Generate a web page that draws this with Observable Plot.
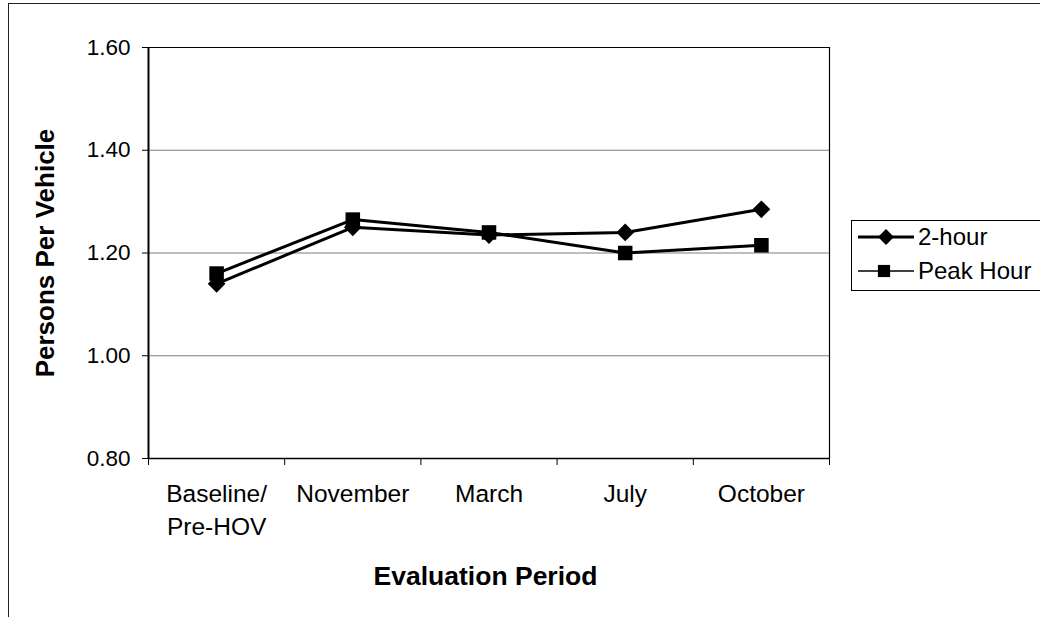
<!DOCTYPE html>
<html>
<head>
<meta charset="utf-8">
<script src="https://cdn.jsdelivr.net/npm/d3@7"></script>
<script src="https://cdn.jsdelivr.net/npm/@observablehq/plot@0.6"></script>
<style>
  html, body { margin: 0; padding: 0; background: #fff; }
  #wrap { position: relative; width: 1040px; height: 617px; overflow: hidden; font-family: "Liberation Sans", Arial, sans-serif; }
  #border { position: absolute; left: 8px; top: 3px; width: 1100px; height: 700px; border: 1px solid #222; box-sizing: border-box; }
  #chart { position: absolute; left: 0; top: 0; }
  #legend { position: absolute; left: 851px; top: 220px; width: 220px; height: 71px; border: 1px solid #000; box-sizing: border-box; background: #fff; }
</style>
</head>
<body>
<div id="wrap">
  <div id="border"></div>
  <div id="chart"></div>
  <div id="legend"></div>
</div>
<script>
const categories = ["Baseline/\nPre-HOV", "November", "March", "July", "October"];
const twoHour = [1.14, 1.25, 1.235, 1.24, 1.285];
const peakHour = [1.16, 1.265, 1.24, 1.20, 1.215];
const yTicks = [0.8, 1.0, 1.2, 1.4, 1.6];
const seriesNames = ["2-hour", "Peak Hour"];

const rows = [];
categories.forEach((c, i) => {
  rows.push({series: seriesNames[0], i, value: twoHour[i]});
  rows.push({series: seriesNames[1], i, value: peakHour[i]});
});
const bounds = d3.range(categories.length + 1).map(i => i - 0.5);
const font = "Liberation Sans, Arial, sans-serif";
const rDiamond = 8, rSquare = 8.2;

const plot = Plot.plot({
  width: 1040,
  height: 617,
  marginLeft: 148,
  marginRight: 211,
  marginTop: 47,
  marginBottom: 159,
  style: {fontFamily: font, fontSize: "24px", background: "transparent", overflow: "visible"},
  x: {type: "linear", domain: [-0.5, categories.length - 0.5]},
  y: {domain: [0.8, 1.6]},
  marks: [
    Plot.ruleY(yTicks.slice(1, -1), {stroke: "#7f7f7f", strokeWidth: 1}),
    Plot.ruleY([1.6], {stroke: "#000", strokeWidth: 1.2}),
    Plot.ruleX([categories.length - 0.5], {stroke: "#000", strokeWidth: 1.2}),
    Plot.axisY({ticks: yTicks, tickFormat: d3.format(".2f"), tickSize: 6, tickPadding: 12, label: null, fontSize: 22.5, stroke: "#000"}),
    Plot.axisX({ticks: bounds, tickFormat: () => "", tickSize: 7, label: null, stroke: "#000"}),
    Plot.ruleY([0.8], {stroke: "#000", strokeWidth: 1.5}),
    Plot.ruleX([-0.5], {stroke: "#000", strokeWidth: 2}),
    Plot.text(categories.map((c, i) => ({c, i})), {
      x: "i", text: "c", frameAnchor: "bottom", dy: 21, lineAnchor: "top", lineHeight: 1.32,
      fontSize: 24.5, fill: "#000"
    }),
    Plot.text(["Persons Per Vehicle"], {frameAnchor: "left", textAnchor: "middle", dx: -103, rotate: -90, fontWeight: "bold", fontSize: 26, fill: "#000"}),
    Plot.text(["Evaluation Period"], {frameAnchor: "bottom", textAnchor: "middle", dx: -3.5, dy: 126, fontWeight: "bold", fontSize: 26.5, fill: "#000"}),
    Plot.line(rows.filter(d => d.series === seriesNames[1]), {x: "i", y: "value", stroke: "#000", strokeWidth: 3}),
    Plot.line(rows.filter(d => d.series === seriesNames[0]), {x: "i", y: "value", stroke: "#000", strokeWidth: 3}),
    Plot.dot(rows.filter(d => d.series === seriesNames[1]), {x: "i", y: "value", symbol: "square", r: rSquare, fill: "#000", stroke: "none"}),
    Plot.dot(rows.filter(d => d.series === seriesNames[0]), {x: "i", y: "value", symbol: "diamond2", r: rDiamond, fill: "#000", stroke: "none"})
  ]
});
document.getElementById("chart").appendChild(plot);

// legend
const lg = d3.select("#legend").append("svg").attr("width", 220).attr("height", 71)
  .style("font-family", font).style("font-size", "24px");
const symbols = [d3.symbol(d3.symbolDiamond2, Math.PI * rDiamond * rDiamond * 0.8), d3.symbol(d3.symbolSquare, Math.PI * rSquare * rSquare * 0.7)];
seriesNames.forEach((name, k) => {
  const yy = 16 + k * 34;
  lg.append("line").attr("x1", 6).attr("x2", 62).attr("y1", yy).attr("y2", yy)
    .attr("stroke", "#000").attr("stroke-width", k === 0 ? 3 : 1.5);
  lg.append("path").attr("d", symbols[k]()).attr("transform", `translate(${k === 0 ? 34 : 32},${yy})`).attr("fill", "#000");
  lg.append("text").attr("x", 66).attr("y", yy).attr("dy", "0.35em").attr("fill", "#000").text(name);
});
</script>
</body>
</html>
